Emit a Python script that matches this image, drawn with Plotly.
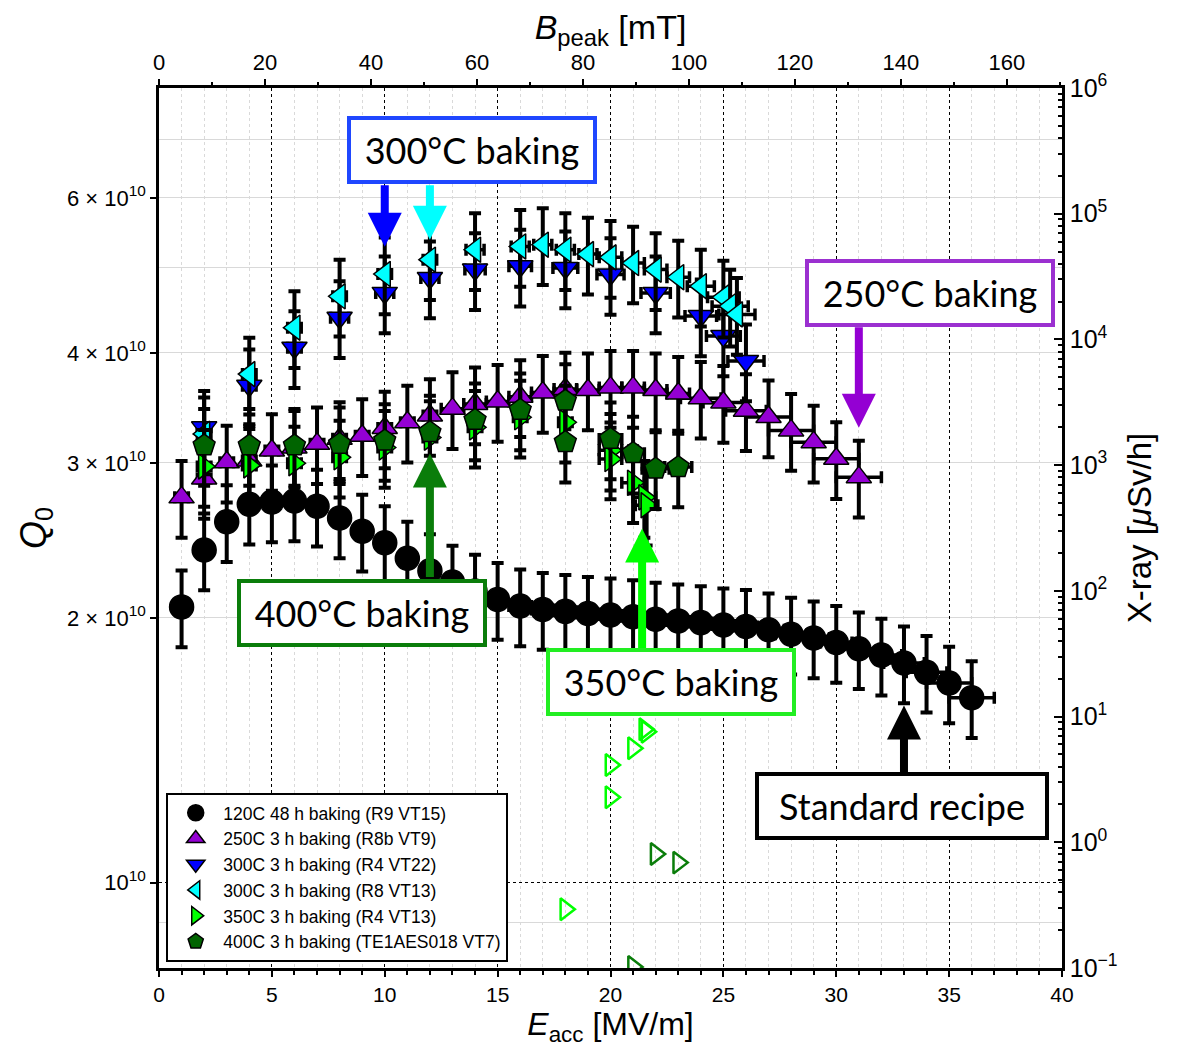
import numpy as np
import plotly.graph_objects as go

# ---------------- data (Q0 in units of 1e10) ----------------
E_120 = list(range(1, 37))
Q_120 = [2.058, 2.388, 2.572, 2.692, 2.708, 2.715, 2.678, 2.597, 2.509, 2.434,
         2.337, 2.262, 2.196, 2.145, 2.098, 2.063, 2.044, 2.034, 2.023, 2.015,
         2.006, 1.993, 1.984, 1.975, 1.963, 1.955, 1.938, 1.916, 1.897, 1.875,
         1.844, 1.814, 1.777, 1.734, 1.686, 1.623]
XE_120 = [0.2] * 15 + [0.5] * 11 + [0.7] * 4 + [0.9] * 4 + [1.0] * 2

E_250 = list(range(1, 32))
Q_250 = [2.741, 2.880, 3.005, 3.018, 3.098, 3.123, 3.153, 3.196, 3.221, 3.286,
         3.336, 3.395, 3.457, 3.499, 3.523, 3.567, 3.607, 3.639, 3.630, 3.655,
         3.655, 3.630, 3.597, 3.552, 3.514, 3.439, 3.382, 3.266, 3.167, 3.032,
         2.890]
XE_250 = [0.3] * 12 + [0.5] * 11 + [0.9] * 3 + [1.0] * 5

E_300a = [2, 4, 6, 8, 10, 12, 14, 16, 18, 20, 22, 24, 25, 26]
Q_300a = [3.292, 3.670, 4.055, 4.385, 4.680, 4.867, 4.974, 5.018, 4.995, 4.910,
          4.680, 4.405, 4.181, 3.917]
XE_300a = [0.3, 0.3, 0.3, 0.4, 0.4, 0.4, 0.45, 0.5, 0.55, 0.6, 0.65, 0.7, 0.75, 0.8]

E_300b = [2, 4, 6, 8, 10, 12, 14, 16, 17, 18, 19, 20, 21, 22, 23, 24, 25, 25.3, 25.6]
Q_300b = [3.236, 3.784, 4.273, 4.639, 4.917, 5.105, 5.240, 5.285, 5.309, 5.240,
          5.180, 5.136, 5.060, 4.974, 4.876, 4.763, 4.627, 4.520, 4.424]
XE_300b = [0.3] * 6 + [0.4] * 5 + [0.5] * 4 + [0.6, 0.7, 0.8, 0.8]

E_350 = [2, 4, 6, 8, 10, 12, 14, 16, 18, 20, 20, 21, 21.5, 21.6]
Q_350 = [2.972, 2.980, 2.997, 3.044, 3.123, 3.205, 3.292, 3.380, 3.336, 3.100,
         3.030, 2.848, 2.741, 2.685]
XE_350 = [0.3] * 9 + [0.5] * 5

E_400 = [2, 4, 6, 8, 10, 12, 14, 16, 18, 18, 20, 21, 22, 23]
Q_400 = [3.139, 3.139, 3.139, 3.153, 3.180, 3.250, 3.356, 3.445, 3.529, 3.167,
         3.194, 3.077, 2.954, 2.967]
XE_400 = [0.3] * 10 + [0.5, 0.5, 0.6, 0.6]

# X-ray (µSv/h), right axis
E_xr350 = [18, 20, 20, 21, 21.5, 21.6]
XR_350 = [0.293, 4.12, 2.28, 5.60, 7.92, 7.58]
E_xr400 = [21, 22, 23]
XR_400 = [0.102, 0.807, 0.689]

NAMES = ["120C 48 h baking (R9 VT15)", "250C 3 h baking (R8b VT9)",
         "300C 3 h baking (R4 VT22)", "300C 3 h baking (R8 VT13)",
         "350C 3 h baking (R4 VT13)", "400C 3 h baking (TE1AES018 VT7)"]

Y_TICKS = [1, 2, 3, 4, 6]
B_PER_E = 4.26  # mT per MV/m

SC = 1e10
FONT = "Liberation Sans, Arial, sans-serif"
BOXFONT = "Lato, Carlito, Calibri, sans-serif"

fig = go.Figure()


def add_series(x, q, xe, name, symbol, color, size):
    fig.add_trace(go.Scatter(
        x=x, y=[v * SC for v in q], mode="markers", name=name,
        marker=dict(symbol=symbol, size=size, color=color,
                    line=dict(color="black", width=1.5)),
        error_y=dict(type="percent", value=10, color="black", thickness=4, width=6),
        error_x=dict(type="data", array=xe, color="black", thickness=3.5, width=6),
    ))


add_series(E_120, Q_120, XE_120, NAMES[0], "circle", "black", 24)
add_series(E_250, Q_250, XE_250, NAMES[1], "triangle-up", "#9400D3", 22)
add_series(E_300a, Q_300a, XE_300a, NAMES[2], "triangle-down", "#0000FF", 22)
add_series(E_300b, Q_300b, XE_300b, NAMES[3], "triangle-left", "#00FFFF", 22)
add_series(E_350, Q_350, XE_350, NAMES[4], "triangle-right", "#00FF00", 22)
add_series(E_400, Q_400, XE_400, NAMES[5], "pentagon", "#006400", 23)

fig.add_trace(go.Scatter(x=E_xr350, y=XR_350, yaxis="y2", mode="markers",
                         showlegend=False,
                         marker=dict(symbol="triangle-right-open", size=19,
                                     color="#00FF00", line=dict(width=2.5))))
fig.add_trace(go.Scatter(x=E_xr400, y=XR_400, yaxis="y2", mode="markers",
                         showlegend=False,
                         marker=dict(symbol="triangle-right-open", size=19,
                                     color="#0a7d0a", line=dict(width=2.5))))
# empty helper traces so overlay axes are created
fig.add_trace(go.Scatter(x=[], y=[], xaxis="x2", yaxis="y", showlegend=False))
fig.add_trace(go.Scatter(x=[], y=[], xaxis="x", yaxis="y3", showlegend=False))

yrange = [np.log10(8e9), np.log10(8e10)]

fig.update_layout(
    width=1175, height=1040,
    margin=dict(l=151, r=121, t=80, b=80),
    paper_bgcolor="white", plot_bgcolor="white",
    font=dict(family=FONT, color="black"),
    xaxis=dict(range=[0, 40], dtick=5, tick0=0, ticks="outside", ticklen=6,
               tickwidth=1.5, tickcolor="black", showline=True, linewidth=2.5,
               linecolor="black", zeroline=False,
               showgrid=True, gridcolor="black", griddash="dot", gridwidth=1.3,
               minor=dict(dtick=1, ticks="outside", ticklen=4, tickcolor="black",
                          showgrid=True, gridcolor="#d9d9d9", gridwidth=1),
               tickfont=dict(size=21, family=FONT),
               title=dict(text="<i>E</i><sub>acc</sub> [MV/m]",
                          font=dict(size=32, family=FONT), standoff=6)),
    xaxis2=dict(overlaying="x", side="top", anchor="y",
                range=[0, 40 * B_PER_E], tickvals=list(range(0, 161, 20)),
                ticks="outside", ticklen=6, tickwidth=1.5, tickcolor="black",
                showline=True, linewidth=2.5, linecolor="black", showgrid=False,
                zeroline=False,
                minor=dict(dtick=10, ticks="outside", ticklen=3, tickcolor="black"),
                tickfont=dict(size=22, family=FONT),
                title=dict(text="<i>B</i><sub>peak</sub> [mT]",
                           font=dict(size=34, family=FONT), standoff=2)),
    yaxis=dict(type="log", range=yrange,
               tickvals=[v * SC for v in Y_TICKS],
               ticktext=["10<sup>10</sup>"] + [f"{v} × 10<sup>10</sup>" for v in Y_TICKS[1:]],
               ticks="outside", ticklen=6, tickwidth=1.5, tickcolor="black",
               showline=True, linewidth=2.5, linecolor="black", showgrid=False,
               zeroline=False,
               minor=dict(tickvals=[9e9, 2e10, 3e10, 4e10, 5e10, 6e10, 7e10],
                          ticks="", showgrid=True, gridcolor="#d9d9d9", gridwidth=1),
               tickfont=dict(size=22, family=FONT),
               title=dict(text="<i>Q</i><sub>0</sub>",
                          font=dict(size=36, family=FONT), standoff=10)),
    yaxis3=dict(type="log", range=yrange, overlaying="y", side="left",
                anchor="x", tickvals=[1e10], showticklabels=False, ticks="",
                showline=False, showgrid=True, gridcolor="black", griddash="dot",
                gridwidth=1.3, zeroline=False),
    yaxis2=dict(type="log", range=[-1, 6], overlaying="y", side="right",
                anchor="x", tickvals=[10.0 ** k for k in range(-1, 7)],
                ticktext=["10<sup>−1</sup>"] + [f"10<sup>{k}</sup>" for k in range(0, 7)],
                ticks="inside", ticklen=8, tickwidth=1.5, tickcolor="black",
                minor=dict(tickvals=[m * 10.0 ** k for k in range(-1, 6) for m in range(2, 10)],
                           ticks="inside", ticklen=4, tickcolor="black", showgrid=False),
                showline=True, linewidth=2.5, linecolor="black", showgrid=False,
                zeroline=False,
                tickfont=dict(size=25, family=FONT),
                title=dict(text="X-ray [<i>μ</i>Sv/h]",
                           font=dict(size=33, family=FONT), standoff=12)),
    legend=dict(x=0.008, y=0.007, xanchor="left", yanchor="bottom",
                bgcolor="white", bordercolor="black", borderwidth=2,
                font=dict(size=17.5, family=FONT), itemsizing="trace",
                itemwidth=45, tracegroupgap=0),
    showlegend=True,
)

# ---------- arrows (tip in data coords, tail offset in px) ----------
ARROWS = [  # (E, Q tip [1e10], ay px, color)
    (10, 5.28, -63, "#0000FF"),
    (12, 5.38, -56, "#00FFFF"),
    (31, 3.289, -102, "#9400D3"),
    (12, 3.074, 125, "#0a7d0a"),
    (21.4, 2.526, 121, "#00FF00"),
    (33, 1.590, 68, "black"),
]
for e, q, ay, c in ARROWS:
    fig.add_annotation(x=e, y=np.log10(q * SC), xref="x", yref="y", text="",
                       showarrow=True, ax=0, ay=ay, arrowhead=2, arrowwidth=8,
                       arrowsize=0.85, arrowcolor=c, standoff=0, startstandoff=0)

BOXES = [  # (text, E center, Q center [1e10], border colour)
    ("300°C baking", 13.87, 6.807, "#1f47ff"),
    ("250°C baking", 34.15, 4.683, "#9b30d0"),
    ("400°C baking", 9.01, 2.028, "#0a7d0a"),
    ("350°C baking", 22.70, 1.689, "#22ee22"),
    ("Standard recipe", 32.91, 1.221, "black"),
]
for txt, e, q, c in BOXES:
    w = 282 if txt.startswith("Standard") else 238
    fig.add_annotation(x=e, y=np.log10(q * SC), xref="x", yref="y", text=txt,
                       showarrow=False, bgcolor="white", bordercolor=c,
                       borderwidth=4, borderpad=2, width=w, height=56,
                       font=dict(size=36, family=BOXFONT, color="black"))

fig.write_html("out.html")
